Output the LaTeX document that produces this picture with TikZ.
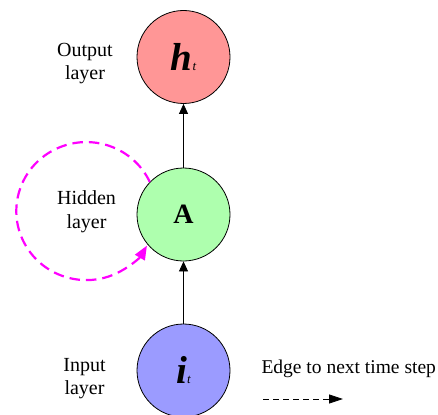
\documentclass[tikz,border=0pt]{standalone}
\usepackage{fontspec}
\setmainfont{Liberation Serif}
\usetikzlibrary{arrows.meta}
\definecolor{outfill}{RGB}{255,150,150}
\definecolor{hidfill}{RGB}{174,255,174}
\definecolor{infill}{RGB}{155,155,255}
\definecolor{loopmag}{RGB}{255,0,255}
\tikzset{
  unit/.style={circle, draw=black, line width=0.8pt, minimum size=93pt, inner sep=0pt},
  lbl/.style={align=center, font=\fontsize{20}{23.5}\selectfont},
  flow/.style={line width=0.8pt, -{Triangle[length=10pt,width=9pt]}},
  loopedge/.style={loopmag, line width=2.2pt, dash pattern=on 10.5pt off 6pt,
                   -{Triangle[length=14pt,width=11pt]}},
  nextedge/.style={line width=0.8pt, dash pattern=on 6pt off 4pt,
                   -{Triangle[length=14pt,width=9pt]}},
  bigsym/.style={font=\fontsize{39}{41}\selectfont\bfseries\itshape},
}
\newcommand{\subt}{{\fontsize{13}{13}\selectfont\mdseries\itshape t}}
\begin{document}
\begin{tikzpicture}[x=1pt,y=1pt]
  \useasboundingbox (0,0) rectangle (438,-414);

  % the three layers
  \node[unit, fill=outfill, bigsym] (H) at (183.5,-57) {h\subt};
  \node[unit, fill=hidfill, font=\fontsize{28}{30}\selectfont\bfseries] (A) at (183.5,-214.5) {A};
  \node[unit, fill=infill, bigsym] (I) at (183.5,-370.5) {i\subt};

  % layer captions
  \node[lbl] (outlbl) at (85,-63.5) {Output\\layer};
  \node[lbl] (hidlbl) at (86.5,-211.5) {Hidden\\layer};
  \node[lbl] (inlbl) at (84.5,-378.5) {Input\\layer};

  % forward connections
  \draw[flow] (I) -- (A);
  \draw[flow] (A) -- (H);

  % recurrent self-loop on the hidden layer
  \draw[loopedge] (A.136) arc[start angle=25, end angle=330, x radius=70, y radius=69];

  % legend
  \node[anchor=base west, font=\fontsize{19.5}{22}\selectfont] (legtxt) at (258,-373.3) {Edge to next time step};
  \coordinate (legA) at (263,-399);
  \coordinate (legB) at (343,-399);
  \draw[nextedge] (legA) -- (legB);
\end{tikzpicture}
\end{document}
